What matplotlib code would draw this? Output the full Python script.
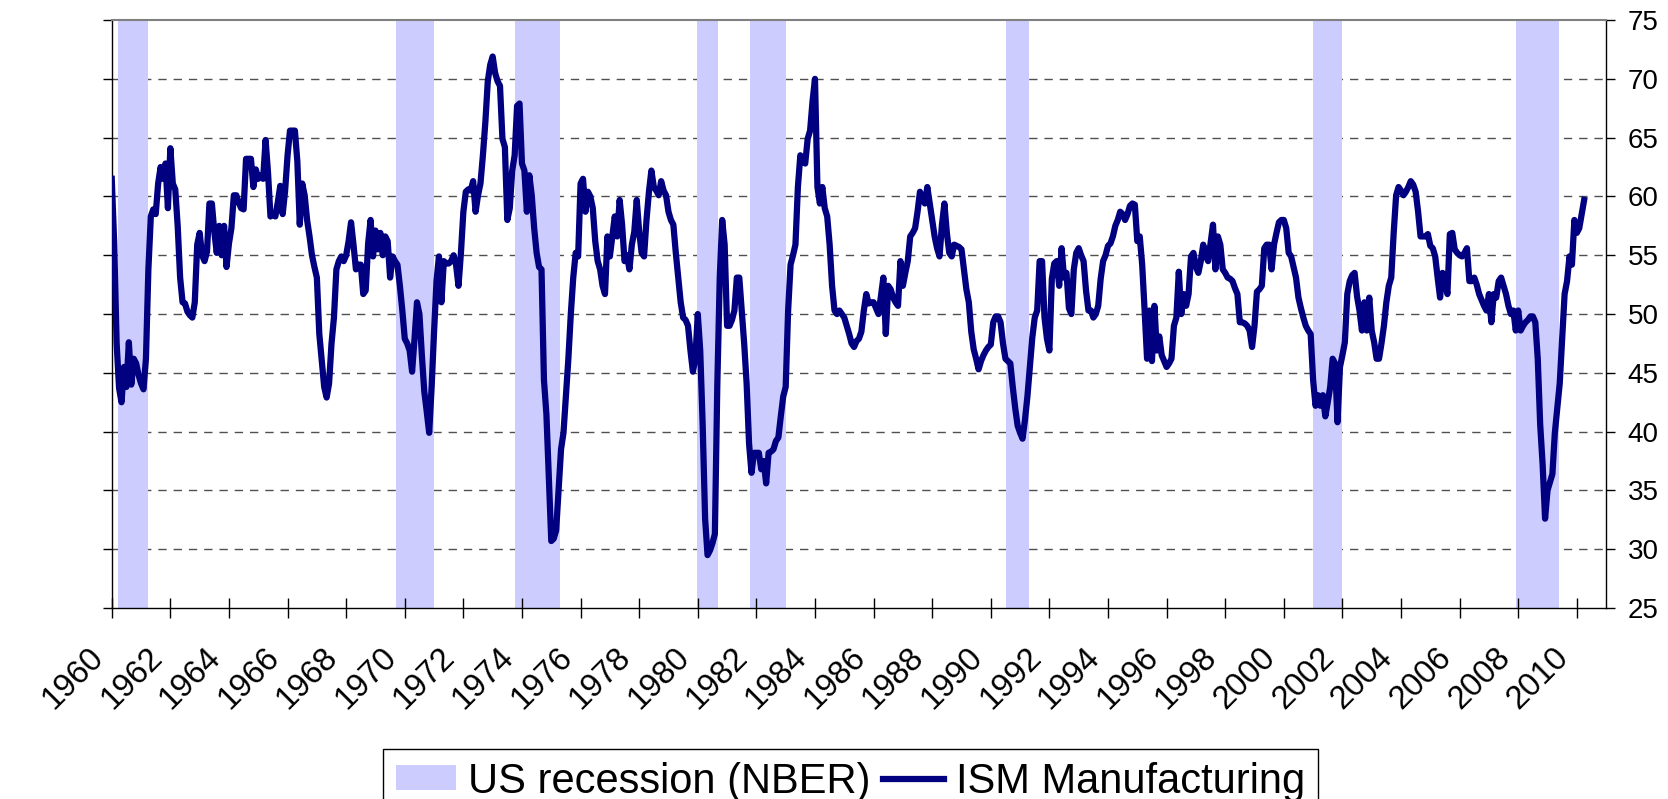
import numpy as np
import matplotlib
matplotlib.use("Agg")
import matplotlib.pyplot as plt
import matplotlib.transforms as mtransforms
from matplotlib.patches import Patch
from matplotlib.lines import Line2D

plt.rcParams['font.family'] = ['Liberation Sans', 'DejaVu Sans']

# ISM manufacturing index, monthly from Jan 1960
ism_1960s = [
    61.5, 56.0, 47.5, 43.7, 42.5, 45.5, 43.8, 47.6, 44.0, 46.2, 45.8, 44.8,
    44.1, 43.6, 46.2, 53.8, 58.3, 58.9, 58.5, 61.1, 62.5, 61.5, 62.8, 59.0,
    64.1, 61.1, 60.6, 57.5, 53.1, 51.0, 50.9, 50.2, 49.9, 49.7, 51.0, 55.9,
    56.9, 55.0, 54.5, 55.3, 59.4, 59.4, 57.0, 55.2, 57.5, 55.0, 57.5, 54.0,
    56.0, 57.3, 60.1, 60.1, 59.5, 59.0, 58.9, 63.2, 63.2, 63.2, 60.8, 62.3,
    61.5, 61.8, 61.5, 64.8, 62.0, 58.3, 58.5, 58.3, 59.5, 60.9, 58.5, 60.5,
    63.5, 65.6, 65.6, 65.6, 63.0, 57.6, 61.1, 60.1, 58.0, 56.6, 55.0, 54.0,
    53.1, 48.3, 46.0, 43.8, 42.9, 44.1, 47.5, 49.7, 53.8, 54.5, 54.9, 54.5,
    55.0, 56.2, 57.8, 55.9, 53.8, 54.2, 54.2, 51.7, 52.0, 56.0, 58.0, 54.9,
    57.1, 55.5, 56.9, 55.0, 56.6, 56.2, 53.1, 54.9, 54.5, 54.2, 52.4, 50.3,
]
ism_1970s = [
    47.9, 47.5, 46.9, 45.1, 47.9, 51.0, 50.0, 46.5, 43.4, 41.7, 39.9, 43.8,
    48.5, 52.8, 54.9, 51.0, 54.5, 54.3, 54.3, 54.5, 55.0, 54.2, 52.4, 55.2,
    58.7, 60.4, 60.6, 60.5, 61.3, 58.7, 60.1, 61.1, 63.5, 66.3, 69.8, 71.2,
    71.9, 70.5, 69.8, 69.4, 64.9, 64.2, 58.0, 59.0, 62.2, 63.5, 67.7, 67.9,
    62.8, 62.2, 58.7, 61.8, 60.1, 57.3, 55.2, 54.0, 53.8, 44.4, 41.5, 36.0,
    30.7, 30.9, 31.6, 35.0, 38.5, 39.9, 43.0, 46.2, 50.0, 53.1, 55.2, 54.9,
    61.1, 61.5, 58.7, 60.4, 60.0, 59.0, 56.2, 54.5, 53.8, 52.4, 51.7, 56.6,
    54.9, 56.6, 58.3, 56.6, 59.7, 57.6, 54.5, 55.0, 53.8, 55.9, 57.0, 59.7,
    57.0, 55.2, 54.9, 58.0, 60.4, 62.2, 60.8, 60.5, 60.1, 61.3, 60.5, 60.1,
    58.7, 58.0, 57.6, 55.2, 53.1, 51.0, 49.7, 49.5, 49.0, 46.9, 45.1, 46.2,
]
ism_1980s = [
    50.0, 46.9, 40.6, 32.6, 29.5, 29.9, 30.5, 31.3, 44.0, 53.1, 58.0, 55.9,
    49.0, 49.0, 49.5, 50.3, 53.1, 53.1, 50.3, 47.5, 44.1, 39.0, 36.5, 38.2,
    38.2, 38.2, 36.8, 37.5, 35.6, 38.2, 38.3, 38.5, 39.2, 39.5, 41.3, 43.0,
    43.8, 50.3, 54.2, 55.0, 55.9, 60.8, 63.5, 63.0, 62.8, 64.9, 65.6, 68.1,
    70.0, 60.8, 59.4, 60.8, 59.0, 58.3, 55.9, 52.4, 50.3, 50.0, 50.3, 50.0,
    49.7, 49.0, 48.3, 47.5, 47.2, 47.7, 47.9, 48.5, 50.3, 51.7, 50.9, 51.0,
    51.0, 50.5, 50.0, 51.5, 53.1, 48.3, 52.4, 52.1, 51.4, 51.0, 50.7, 54.5,
    52.4, 53.5, 54.5, 56.6, 56.9, 57.3, 58.7, 60.4, 59.8, 59.4, 60.8, 59.4,
    58.0, 56.6, 55.6, 54.9, 57.6, 59.4, 56.9, 55.2, 54.9, 55.9, 55.8, 55.7,
    55.5, 53.8, 52.1, 51.0, 48.5, 47.0, 46.2, 45.3, 46.0, 46.5, 46.9, 47.2,
]
ism_1990s = [
    47.4, 49.3, 49.8, 49.8, 49.3, 47.5, 46.2, 46.0, 45.8, 43.8, 42.0, 40.5,
    39.9, 39.4, 41.0, 43.0, 45.5, 48.0, 49.7, 50.3, 54.5, 54.5, 49.7, 47.9,
    46.9, 53.0, 54.3, 54.5, 52.4, 55.6, 53.1, 53.5, 50.5, 50.0, 53.8, 55.2,
    55.6, 55.0, 54.5, 52.0, 50.3, 50.3, 49.7, 50.0, 50.7, 53.0, 54.5, 55.0,
    55.8, 56.0, 56.6, 57.5, 58.0, 58.7, 58.5, 58.0, 58.5, 59.2, 59.4, 59.3,
    56.2, 56.6, 54.2, 50.3, 46.2, 50.3, 46.0, 50.7, 46.9, 48.1, 46.5, 46.0,
    45.5, 45.8, 46.2, 49.0, 49.7, 53.6, 50.0, 51.7, 50.7, 51.7, 54.9, 55.2,
    54.0, 53.5, 54.5, 55.9, 55.0, 54.5, 56.0, 57.6, 53.8, 56.6, 55.9, 53.8,
    53.5, 53.1, 53.0, 52.8, 52.2, 51.7, 49.3, 49.3, 49.2, 49.0, 48.6, 47.2,
    49.0, 51.9, 52.1, 52.4, 55.6, 55.9, 55.9, 53.8, 55.9, 56.9, 57.8, 58.0,
]
ism_2000s = [
    58.0, 57.3, 55.2, 54.9, 54.0, 53.1, 51.4, 50.5, 49.7, 49.0, 48.6, 48.3,
    44.4, 42.2, 43.1, 42.2, 43.1, 41.3, 42.5, 43.8, 46.2, 45.8, 40.8, 45.5,
    46.5, 47.6, 51.7, 52.8, 53.3, 53.5, 51.5, 50.3, 48.6, 51.0, 48.6, 51.4,
    48.6, 47.6, 46.2, 46.2, 47.5, 49.0, 51.0, 52.4, 53.1, 56.9, 60.1, 60.8,
    60.5, 60.1, 60.4, 60.8, 61.3, 61.0, 60.4, 58.7, 56.6, 56.6, 56.6, 56.8,
    55.8, 55.6, 54.9, 53.1, 51.4, 53.5, 53.0, 51.7, 56.8, 56.9, 55.5, 55.2,
    55.0, 54.9, 55.2, 55.6, 52.8, 52.8, 53.1, 52.5, 51.7, 51.2, 50.7, 50.3,
    51.7, 49.3, 51.7, 51.4, 52.8, 53.1, 52.4, 51.7, 50.7, 50.0, 50.3, 48.6,
    50.3, 48.6, 49.0, 49.3, 49.5, 49.8, 49.8, 49.3, 46.2, 40.6, 37.2, 32.6,
    35.0, 35.7, 36.4, 39.9, 42.0, 44.1, 47.9, 51.7, 52.8, 54.9, 54.2, 58.0,
]
ism_2010 = [56.9, 57.3, 58.5, 59.7]

# NBER recession shading (start, end in decimal years as drawn)
rec_start = [1960.23, 1969.69, 1973.76, 1979.98, 1981.77, 1990.52, 2001.0, 2007.93]
rec_end = [1961.25, 1970.99, 1975.31, 1980.70, 1983.0, 1991.3, 2002.0, 2009.40]

x_ticks = list(range(1960, 2011, 2))
y_ticks = [25, 30, 35, 40, 45, 50, 55, 60, 65, 70, 75]

ism = np.array(ism_1960s + ism_1970s + ism_1980s + ism_1990s + ism_2000s + ism_2010)
dates = 1960 + np.arange(len(ism)) / 12.0

fig = plt.figure(figsize=(16.68, 7.99), dpi=100)
ax = fig.add_axes([0.0670, 0.2390, 0.8959, 0.7359])

# dashed grid under the shading
ax.hlines(y_ticks[1:-1], 1960, 2011, colors='#505050', linestyles=(0, (6, 5)),
          lw=1, zorder=0.5)
for s, e in zip(rec_start, rec_end):
    ax.axvspan(s, e, color='#CCCCFF', lw=0, zorder=1)

ax.plot(dates, ism, color='#000080', lw=4.5, solid_joinstyle='round', zorder=3)

ax.set_xlim(1960, 2011)
ax.set_ylim(25, 75)

ax.set_yticks(y_ticks)
ax.yaxis.set_ticks_position('both')
ax.tick_params(axis='y', direction='out', length=6.5, width=1,
               labelleft=False, labelright=True, labelsize=20, pad=9)

ax.set_xticks(x_ticks)
ax.set_xticklabels([str(y) for y in x_ticks], rotation=45, ha='right', va='top',
                   rotation_mode='anchor', fontsize=23.5)
ax.tick_params(axis='x', direction='inout', length=15, width=1, pad=17)
shift = mtransforms.ScaledTranslation(-0.24, 0, fig.dpi_scale_trans)
for lab in ax.get_xticklabels():
    lab.set_transform(lab.get_transform() + shift)

ax.spines['top'].set_color('#808080')
ax.spines['top'].set_linewidth(1.5)
for side in ['left', 'right', 'bottom']:
    ax.spines[side].set_color('black')
    ax.spines[side].set_linewidth(1)

handles = [Patch(facecolor='#CCCCFF', edgecolor='none'),
           Line2D([], [], color='#000080', lw=4.5)]
leg = fig.legend(handles, ['US recession (NBER)', 'ISM Manufacturing'], ncol=2,
                 loc='upper left', bbox_to_anchor=(383 / 1668, 1 - 749 / 799),
                 frameon=True, fancybox=False, edgecolor='black', framealpha=1,
                 fontsize=30, borderpad=0.3, handlelength=1.45, handleheight=0.55,
                 handletextpad=0.3, columnspacing=0.3, borderaxespad=0)
leg.get_frame().set_linewidth(1)

fig.savefig('out.png', dpi=100)
